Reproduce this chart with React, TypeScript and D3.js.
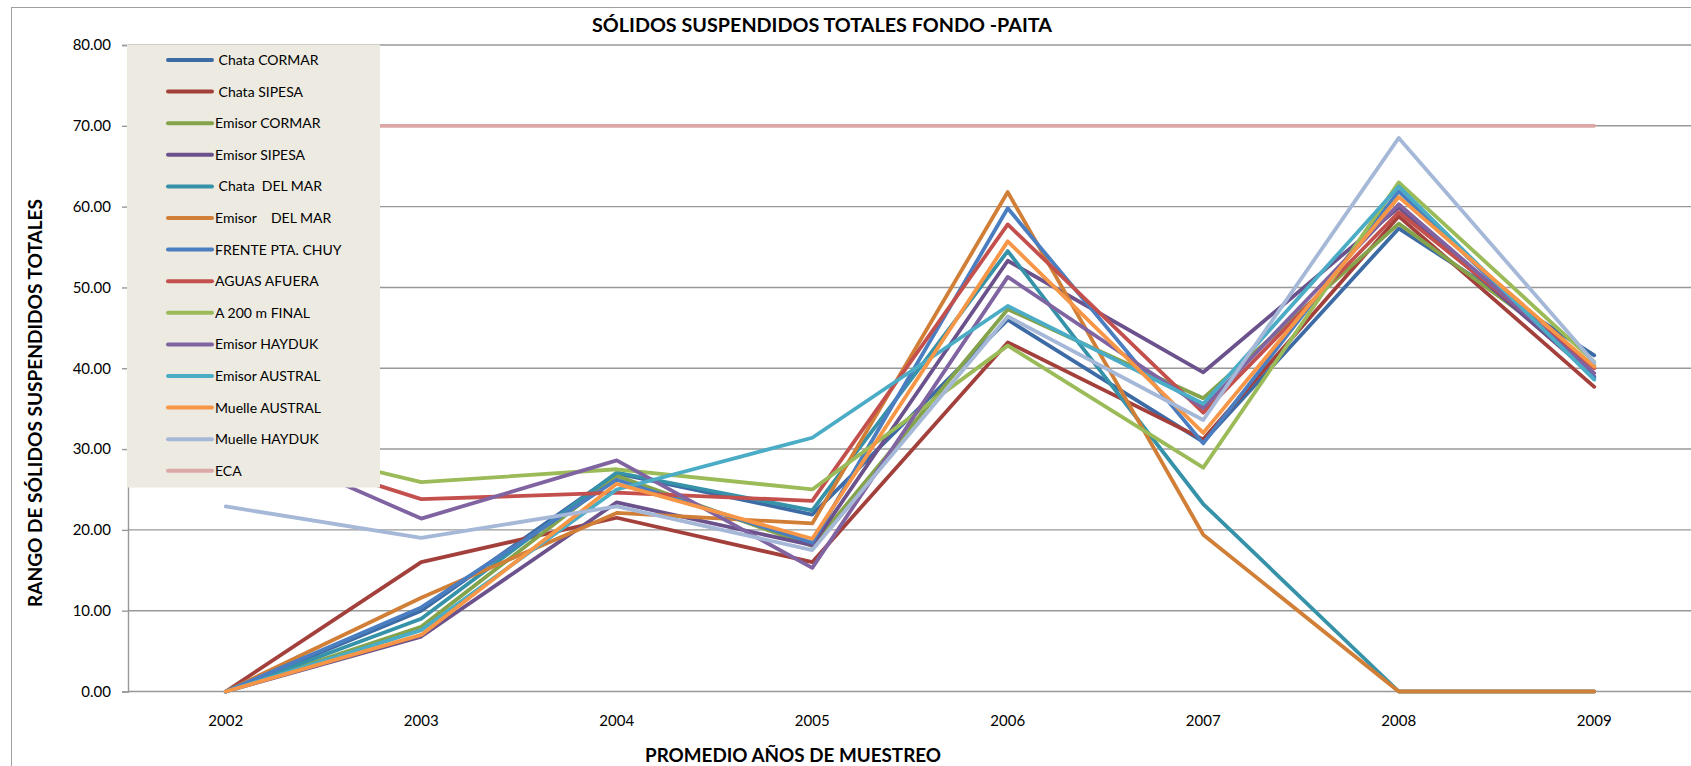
import React, { useEffect, useRef } from 'react';
import * as d3 from 'd3';

const years = ['2002', '2003', '2004', '2005', '2006', '2007', '2008', '2009'];

const seriesNames = [
  ' Chata CORMAR',
  ' Chata SIPESA',
  'Emisor CORMAR',
  'Emisor SIPESA',
  ' Chata  DEL MAR',
  'Emisor    DEL MAR',
  'FRENTE PTA. CHUY',
  'AGUAS AFUERA',
  'A 200 m FINAL',
  'Emisor HAYDUK',
  'Emisor AUSTRAL',
  'Muelle AUSTRAL',
  'Muelle HAYDUK',
  'ECA',
];

const chataCormar = [0, 10.0, 27.0, 21.9, 46.0, 30.9, 57.3, 41.6];
const chataSipesa = [0, 16.0, 21.5, 16.0, 43.2, 31.2, 58.8, 37.7];
const emisorCormar = [0, 8.0, 26.7, 18.0, 47.3, 36.3, 57.9, 40.3];
const emisorSipesa = [0, 6.8, 23.4, 18.1, 53.3, 39.5, 59.9, 39.0];
const chataDelMar = [0, 9.0, 27.1, 22.4, 54.5, 23.2, 0, 0];
const emisorDelMar = [0, 11.6, 22.1, 20.8, 61.8, 19.4, 0, 0];
const frentePtaChuy = [0, 10.4, 26.2, 18.4, 59.8, 30.7, 61.9, 38.8];
const aguasAfuera = [31.5, 23.8, 24.6, 23.6, 57.8, 34.5, 59.3, 40.0];
const a200Final = [31.7, 25.9, 27.5, 25.0, 42.8, 27.7, 63.0, 40.8];
const emisorHayduk = [32.0, 21.4, 28.6, 15.3, 51.3, 35.1, 60.3, 39.4];
const emisorAustral = [0, 7.6, 25.0, 31.4, 47.7, 35.6, 62.5, 38.6];
const muelleAustral = [0, 7.0, 25.7, 18.9, 55.7, 32.0, 61.2, 40.2];
const muelleHayduk = [22.9, 19.0, 22.9, 17.5, 46.4, 33.6, 68.5, 40.7];
const eca = [70, 70, 70, 70, 70, 70, 70, 70];

const seriesValues = [
  chataCormar, chataSipesa, emisorCormar, emisorSipesa, chataDelMar, emisorDelMar,
  frentePtaChuy, aguasAfuera, a200Final, emisorHayduk, emisorAustral, muelleAustral,
  muelleHayduk, eca,
];

const colors = [
  '#3d6ba5', '#a3403c', '#84a34a', '#6b528c', '#3592a8', '#d17e37',
  '#4a7ec0', '#c4504d', '#9bbb59', '#8064a2', '#4bacc6', '#f79646',
  '#a5b8d8', '#dca8a7',
];

const yTicks = [0, 10, 20, 30, 40, 50, 60, 70, 80];

const FONT = 'Lato, "Open Sans", sans-serif';

const App = () => {
  const svgRef = useRef(null);

  useEffect(() => {
    document.body.style.margin = '0';
    const width = 1691, height = 766;
    const plot = { left: 128, right: 1692, top: 45, bottom: 691.5 };

    const svg = d3.select(svgRef.current);
    svg.selectAll('*').remove();
    svg.attr('width', width).attr('height', height);

    const x = d3.scaleBand().domain(years).range([plot.left, plot.right]);
    const y = d3.scaleLinear().domain([0, 80]).range([plot.bottom, plot.top]);
    const cx = d => x(d) + x.bandwidth() / 2;

    svg.append('rect').attr('width', width).attr('height', height).attr('fill', '#fff');

    // chart border
    svg.append('rect')
      .attr('x', 11.5).attr('y', 7.5)
      .attr('width', width + 20).attr('height', height + 20)
      .attr('fill', 'none').attr('stroke', '#a0a0a0').attr('stroke-width', 1);

    // gridlines
    svg.append('g')
      .selectAll('line')
      .data(yTicks)
      .join('line')
      .attr('x1', plot.left).attr('x2', width)
      .attr('y1', d => y(d)).attr('y2', d => y(d))
      .attr('stroke', '#989898').attr('stroke-width', 1.4);

    // y axis
    const yAxis = svg.append('g')
      .attr('transform', `translate(${plot.left},0)`)
      .call(d3.axisLeft(y).tickValues(yTicks).tickFormat(d3.format('.2f')).tickSize(6).tickPadding(11));
    yAxis.select('.domain').attr('stroke', '#989898').attr('stroke-width', 1.4);
    yAxis.selectAll('.tick line').attr('stroke', '#989898').attr('stroke-width', 1.4);
    yAxis.selectAll('text').attr('font-family', FONT).attr('font-size', 15).attr('fill', '#000');

    // x axis labels
    const xAxis = svg.append('g')
      .attr('transform', `translate(0,${plot.bottom})`)
      .call(d3.axisBottom(x).tickSize(0).tickPadding(24));
    xAxis.select('.domain').remove();
    xAxis.selectAll('text').attr('font-family', FONT).attr('font-size', 15).attr('fill', '#000');

    // series lines
    const line = d3.line()
      .x((d, i) => cx(years[i]))
      .y(d => y(d));
    svg.append('g')
      .selectAll('path')
      .data(seriesValues)
      .join('path')
      .attr('d', d => line(d))
      .attr('fill', 'none')
      .attr('stroke', (d, i) => colors[i])
      .attr('stroke-width', 3.8)
      .attr('stroke-linejoin', 'round')
      .attr('stroke-linecap', 'round');

    // legend
    const legend = svg.append('g');
    legend.append('rect')
      .attr('x', 127).attr('y', 44.5).attr('width', 253).attr('height', 443)
      .attr('fill', '#eceae1');
    const item = legend.selectAll('g.item')
      .data(seriesNames)
      .join('g')
      .attr('class', 'item')
      .attr('transform', (d, i) => `translate(0,${60 + i * 31.6})`);
    item.append('line')
      .attr('x1', 168).attr('x2', 212)
      .attr('stroke', (d, i) => colors[i])
      .attr('stroke-width', 4)
      .attr('stroke-linecap', 'round');
    item.append('text')
      .attr('x', 215)
      .attr('dy', '0.35em')
      .attr('font-family', FONT)
      .attr('font-size', 14)
      .style('white-space', 'pre')
      .text(d => d);

    // titles
    svg.append('text')
      .attr('x', 822).attr('y', 32)
      .attr('text-anchor', 'middle')
      .attr('font-family', FONT).attr('font-weight', 'bold').attr('font-size', 19)
      .attr('textLength', 460).attr('lengthAdjust', 'spacingAndGlyphs')
      .text('SÓLIDOS SUSPENDIDOS TOTALES FONDO -PAITA');

    svg.append('text')
      .attr('transform', 'translate(42,403) rotate(-90)')
      .attr('text-anchor', 'middle')
      .attr('font-family', FONT).attr('font-weight', 'bold').attr('font-size', 19)
      .attr('textLength', 408).attr('lengthAdjust', 'spacingAndGlyphs')
      .text('RANGO DE SÓLIDOS SUSPENDIDOS TOTALES');

    svg.append('text')
      .attr('x', 793).attr('y', 762)
      .attr('text-anchor', 'middle')
      .attr('font-family', FONT).attr('font-weight', 'bold').attr('font-size', 19)
      .attr('textLength', 296).attr('lengthAdjust', 'spacingAndGlyphs')
      .text('PROMEDIO AÑOS DE MUESTREO');
  }, []);

  return <svg ref={svgRef} style={{ display: 'block' }}></svg>;
};

export default App;
